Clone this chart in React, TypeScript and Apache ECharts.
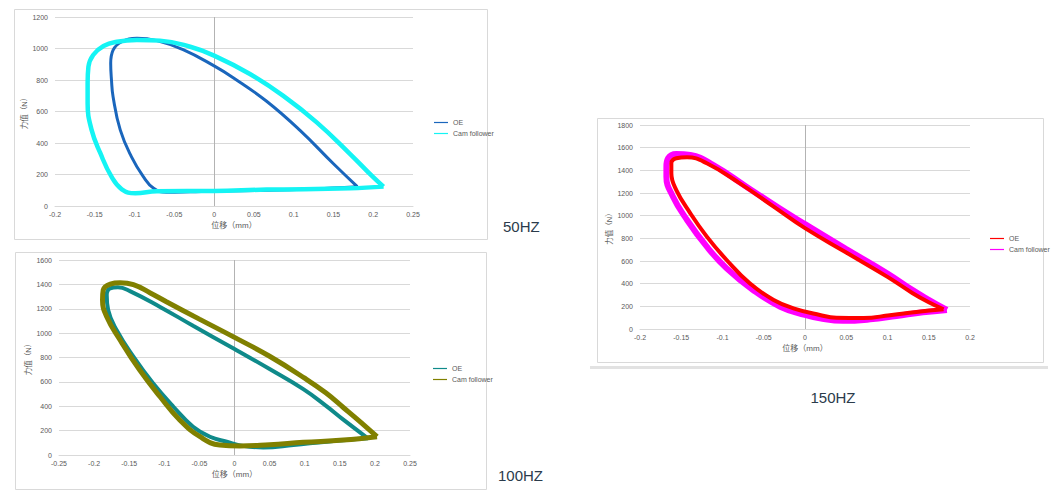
import React, { useEffect, useRef } from "react";
import * as echarts from "echarts";

// ---------- data ----------
const oe50: number[][] = [
  [0.18, 123], [0.15, 268], [0.108, 480], [0.066, 665], [0.024, 815], [0, 890],
  [-0.039, 993], [-0.072, 1050], [-0.097, 1065], [-0.116, 1043], [-0.127, 990],
  [-0.13, 906], [-0.129, 800], [-0.127, 694], [-0.118, 483], [-0.104, 313],
  [-0.089, 186], [-0.076, 112], [-0.06, 87], [-0.03, 90], [0, 95], [0.066, 100],
  [0.12, 108], [0.18, 123],
];
const cf50: number[][] = [
  [0.213, 123], [0.2, 183], [0.171, 330], [0.129, 531], [0.087, 699], [0.045, 838],
  [0, 955], [-0.03, 1011], [-0.068, 1050], [-0.097, 1054], [-0.122, 1043],
  [-0.139, 1016], [-0.152, 959], [-0.158, 884], [-0.159, 779], [-0.159, 652],
  [-0.154, 483], [-0.143, 335], [-0.129, 186], [-0.116, 106], [-0.099, 81],
  [-0.072, 93], [0, 96], [0.066, 104], [0.171, 112], [0.213, 123],
];
const oe100: number[][] = [
  [0.19, 137], [0.155, 290], [0.13, 405], [0.098, 540], [0.05, 705], [0, 870],
  [-0.059, 1060], [-0.106, 1215], [-0.149, 1345], [-0.166, 1376], [-0.177, 1368],
  [-0.182, 1313], [-0.18, 1190], [-0.168, 1026], [-0.144, 807], [-0.116, 588],
  [-0.087, 396], [-0.059, 232], [-0.035, 150], [-0.011, 109], [0.012, 75],
  [0.041, 62], [0.084, 82], [0.131, 109], [0.19, 137],
];
const cf100: number[][] = [
  [0.203, 150], [0.18, 268], [0.155, 390], [0.13, 510], [0.1, 630], [0.05, 810],
  [0, 965], [-0.05, 1115], [-0.097, 1258], [-0.12, 1330], [-0.144, 1398],
  [-0.163, 1414], [-0.177, 1403], [-0.187, 1354], [-0.188, 1272], [-0.182, 1135],
  [-0.163, 944], [-0.135, 697], [-0.106, 478], [-0.078, 287], [-0.049, 150],
  [-0.021, 82], [0.008, 74], [0.05, 85], [0.098, 104], [0.155, 123], [0.203, 150],
];
const oe150: number[][] = [
  [0.168, 174], [0.15, 236], [0.13, 318], [0.1, 460], [0.05, 675], [0, 890],
  [-0.038, 1080], [-0.079, 1285], [-0.119, 1462], [-0.143, 1515],
  [-0.156, 1506], [-0.162, 1462], [-0.162, 1374], [-0.156, 1226], [-0.139, 1021],
  [-0.119, 815], [-0.095, 609], [-0.067, 403], [-0.038, 256], [-0.014, 182],
  [0.018, 124], [0.038, 100], [0.071, 96], [0.103, 122], [0.135, 150], [0.168, 174],
];
const cf150: number[][] = [
  [0.172, 168], [0.15, 258], [0.13, 345], [0.1, 490], [0.05, 705], [0, 925],
  [-0.03, 1060], [-0.071, 1256], [-0.111, 1447], [-0.139, 1535],
  [-0.156, 1544], [-0.166, 1506], [-0.168, 1432], [-0.168, 1344], [-0.16, 1167],
  [-0.143, 962], [-0.119, 726], [-0.095, 535], [-0.063, 344], [-0.03, 197],
  [0, 124], [0.018, 94], [0.046, 72], [0.079, 85], [0.111, 115], [0.143, 147],
  [0.172, 168],
];

const seriesNames = ["OE", "Cam follower"];
const panelLabels = ["50HZ", "100HZ", "150HZ"];
const xRanges = [[-0.2, 0.25], [-0.25, 0.25], [-0.2, 0.2]];
const yMaxes = [1200, 1600, 1800];
const xTitle = "位移（mm）";
const yTitle = "力值（N）";

// ---------- styles ----------
const FONT = "'Liberation Sans', 'Noto Sans CJK SC', sans-serif";
const LABEL_COLOR = "#595959";
const GRID_COLOR = "#d9d9d9";

const grids = [
  { left: 55, top: 17, width: 358, height: 189 },
  { left: 59, top: 260, width: 351, height: 195 },
  { left: 640, top: 125, width: 330, height: 204 },
];
const legendPos = [
  { left: 429, top: 114 },
  { left: 428, top: 360 },
  { left: 985, top: 230 },
];
const colors = [
  ["#1a66bc", "#14f4f4"],
  ["#0f8a8a", "#808000"],
  ["#ff0000", "#ff00ff"],
];
const widths = [
  [3, 4.5],
  [4, 5],
  [4, 6],
];

const fmt = (v: number) => String(Number(v.toFixed(2)));

function buildOption() {
  const data = [
    [oe50, cf50],
    [oe100, cf100],
    [oe150, cf150],
  ];
  const xAxis = grids.map((_, i) => ({
    type: "value",
    gridIndex: i,
    min: xRanges[i][0],
    max: xRanges[i][1],
    interval: 0.05,
    axisLine: { show: true, onZero: false, lineStyle: { color: GRID_COLOR, width: 1 } },
    axisTick: { show: false },
    splitLine: { show: false },
    axisLabel: { fontSize: 7, color: LABEL_COLOR, margin: 5, fontFamily: FONT, formatter: fmt },
    name: xTitle,
    nameLocation: "middle",
    nameGap: 15,
    nameTextStyle: { fontSize: 8, color: LABEL_COLOR, fontFamily: FONT },
  }));
  const yAxis = grids.map((_, i) => ({
    type: "value",
    gridIndex: i,
    min: 0,
    max: yMaxes[i],
    interval: 200,
    axisLine: { show: false },
    axisTick: { show: false },
    splitLine: { show: true, lineStyle: { color: GRID_COLOR, width: 1 } },
    axisLabel: {
      fontSize: 7,
      color: LABEL_COLOR,
      margin: 7,
      fontFamily: FONT,
      formatter: (v: number) => String(v),
    },
    name: yTitle,
    nameLocation: "middle",
    nameGap: 22,
    nameTextStyle: { fontSize: 7.5, color: LABEL_COLOR, fontFamily: FONT },
  }));
  const series: any[] = [];
  const legends: any[] = [];
  data.forEach((pair, i) => {
    const names = seriesNames.map((n) => `${n}|${i}`);
    pair.forEach((d, j) => {
      const s: any = {
        type: "line",
        name: names[j],
        xAxisIndex: i,
        yAxisIndex: i,
        data: d,
        showSymbol: false,
        smooth: 0.45,
        color: colors[i][j],
        lineStyle: { color: colors[i][j], width: widths[i][j] },
        z: i === 2 ? (j === 0 ? 4 : 3) : j === 0 ? 3 : 4,
      };
      if (j === 0) {
        s.markLine = {
          silent: true,
          symbol: "none",
          label: { show: false },
          lineStyle: { color: "#b3b3b3", width: 1, type: "solid" },
          data: [{ xAxis: 0 }],
          z: 1,
        };
      }
      series.push(s);
    });
    legends.push({
      orient: "vertical",
      left: legendPos[i].left,
      top: legendPos[i].top,
      itemWidth: 14,
      itemHeight: 8,
      itemGap: 4,
      icon: "path://M0,3.4 L14,3.4 L14,4.6 L0,4.6 Z",
      data: names,
      formatter: (n: string) => n.split("|")[0],
      textStyle: { fontSize: 7, color: LABEL_COLOR, fontFamily: FONT },
      selectedMode: false,
    });
  });

  const graphic: any[] = [
    { type: "rect", shape: { x: 14.5, y: 9.5, width: 473, height: 230 }, style: { fill: "none", stroke: GRID_COLOR, lineWidth: 1 }, z: -1 },
    { type: "rect", shape: { x: 15.5, y: 252.5, width: 471, height: 237 }, style: { fill: "none", stroke: GRID_COLOR, lineWidth: 1 }, z: -1 },
    { type: "rect", shape: { x: 597.5, y: 118.5, width: 446, height: 244 }, style: { fill: "none", stroke: GRID_COLOR, lineWidth: 1 }, z: -1 },
    { type: "rect", shape: { x: 590, y: 366, width: 458, height: 3 }, style: { fill: "#e2e2e2" }, z: -1 },
    { type: "text", x: 503, y: 226, style: { text: panelLabels[0], font: `15px ${FONT}`, fill: "#2b3b4b", verticalAlign: "middle", textAlign: "left" } },
    { type: "text", x: 498, y: 475, style: { text: panelLabels[1], font: `15px ${FONT}`, fill: "#2b3b4b", verticalAlign: "middle", textAlign: "left" } },
    { type: "text", x: 833, y: 397, style: { text: panelLabels[2], font: `15px ${FONT}`, fill: "#2b3b4b", verticalAlign: "middle", textAlign: "center" } },
  ];

  return {
    animation: false,
    backgroundColor: "#ffffff",
    textStyle: { fontFamily: FONT },
    grid: grids,
    xAxis,
    yAxis,
    legend: legends,
    series,
    graphic,
  };
}

export default function App() {
  const ref = useRef<HTMLDivElement>(null);
  useEffect(() => {
    if (!ref.current) return;
    const chart = echarts.init(ref.current, null, { renderer: "svg" });
    chart.setOption(buildOption() as any);
    return () => chart.dispose();
  }, []);
  return (
    <div
      ref={ref}
      style={{ position: "absolute", left: 0, top: 0, width: 1055, height: 500, background: "#fff" }}
    />
  );
}
